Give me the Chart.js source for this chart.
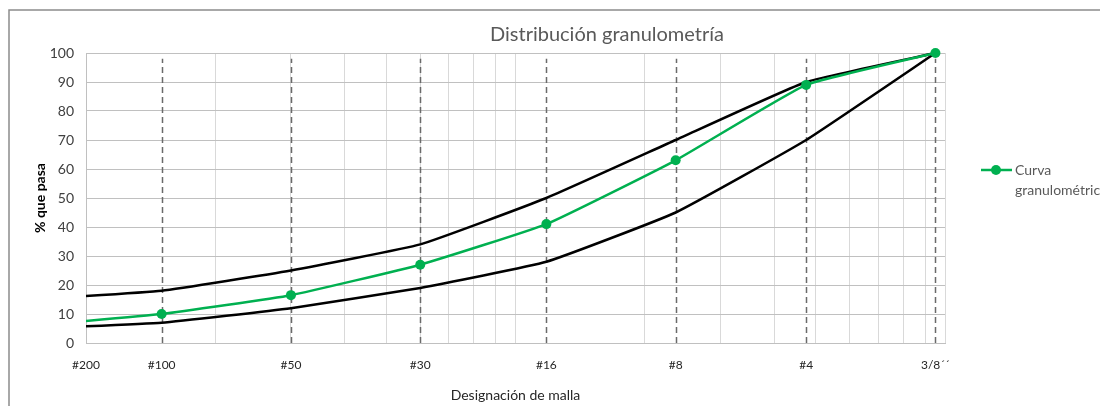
<!DOCTYPE html>
<html>
<head>
<meta charset="utf-8">
<script src="https://cdn.jsdelivr.net/npm/chart.js@4.4.1/dist/chart.umd.min.js"></script>
<style>
  html, body { margin: 0; padding: 0; background: #ffffff; }
  canvas { display: block; }
</style>
</head>
<body>
<canvas id="chart" width="1100" height="406"></canvas>
<script>
// Sieve designations and their openings (mm)
const sieveLabels = ['#200', '#100', '#50', '#30', '#16', '#8', '#4', '3/8´´'];
const sieveSizes  = [0.075, 0.15, 0.3, 0.6, 1.18, 2.36, 4.75, 9.5];

// Percent passing per sieve
const gradingCurve = [6, 10, 16.5, 27, 41, 63, 89, 100];
const upperLimit   = [15, 18, 25, 34, 50, 70, 90, 100];
const lowerLimit   = [5, 7, 12, 19, 28, 45, 70, 100];

// Logarithmic grid values for the opening axis
const gridSizes = [0.1, 0.2, 0.3, 0.4, 0.5, 0.6, 0.7, 0.8, 0.9, 1, 2, 3, 4, 5, 6, 7, 8, 9, 10];

const FONT = 'Lato, "Open Sans", "Liberation Sans", sans-serif';
const GREEN = '#00b050';
const X_MIN = 0.1, X_MAX = 10;
const TENSION = 0.12;

const toPoints = vals => sieveSizes.map((s, i) => ({ x: s, y: vals[i] }));

// Frame around the chart
const framePlugin = {
  id: 'frame',
  beforeDraw(chart) {
    const { ctx } = chart;
    ctx.save();
    ctx.fillStyle = '#ffffff';
    ctx.fillRect(0, 0, chart.width, chart.height);
    ctx.strokeStyle = '#8c8c8c';
    ctx.lineWidth = 1.5;
    ctx.beginPath();
    ctx.moveTo(9, chart.height);
    ctx.lineTo(9, 10);
    ctx.lineTo(chart.width, 10);
    ctx.stroke();
    ctx.restore();
  }
};

// Dashed drop lines at every sieve opening
const sieveLinesPlugin = {
  id: 'sieveLines',
  beforeDatasetsDraw(chart, args, opts) {
    const { ctx, scales: { x, y } } = chart;
    ctx.save();
    ctx.strokeStyle = opts.color;
    ctx.lineWidth = opts.width;
    ctx.setLineDash(opts.dash);
    sieveSizes.forEach(s => {
      if (s < X_MIN || s > X_MAX) return;
      const px = Math.round(x.getPixelForValue(s)) + 0.5;
      ctx.beginPath();
      ctx.moveTo(px, y.getPixelForValue(0));
      ctx.lineTo(px, y.getPixelForValue(opts.top));
      ctx.stroke();
    });
    ctx.restore();
  }
};

// Chart heading and legend entry for the grading curve
const headerLegendPlugin = {
  id: 'headerLegend',
  afterDraw(chart, args, opts) {
    const { ctx } = chart;
    ctx.save();
    ctx.fillStyle = '#595959';
    ctx.font = '20px ' + FONT;
    ctx.textAlign = 'center';
    ctx.textBaseline = 'middle';
    ctx.fillText(opts.title, opts.titleX, opts.titleY);

    const ds = chart.data.datasets[0];
    const lx = opts.legendX, ly = opts.legendY;
    ctx.strokeStyle = ds.borderColor;
    ctx.lineWidth = ds.borderWidth;
    ctx.beginPath();
    ctx.moveTo(lx, ly);
    ctx.lineTo(lx + 31, ly);
    ctx.stroke();
    ctx.fillStyle = ds.backgroundColor;
    ctx.beginPath();
    ctx.arc(lx + 15, ly, ds.pointRadius, 0, Math.PI * 2);
    ctx.fill();

    ctx.fillStyle = '#595959';
    ctx.font = '14px ' + FONT;
    ctx.textAlign = 'left';
    const words = ds.label.split(' ');
    words.forEach((w, i) => ctx.fillText(w, lx + 34, ly + i * 20));
    ctx.restore();
  }
};

new Chart(document.getElementById('chart'), {
  type: 'line',
  data: {
    datasets: [
      {
        label: 'Curva granulométrica',
        data: toPoints(gradingCurve),
        borderColor: GREEN,
        backgroundColor: GREEN,
        borderWidth: 2.5,
        pointRadius: 5,
        pointHoverRadius: 5,
        pointBorderWidth: 0,
        tension: TENSION,
        clip: { left: 0, right: 8, top: 8, bottom: 0 },
        order: 0
      },
      {
        label: 'Límite superior',
        data: toPoints(upperLimit),
        borderColor: '#000000',
        borderWidth: 2.5,
        pointRadius: 0,
        tension: TENSION,
        clip: { left: 0, right: 8, top: 8, bottom: 0 },
        order: 1
      },
      {
        label: 'Límite inferior',
        data: toPoints(lowerLimit),
        borderColor: '#000000',
        borderWidth: 2.5,
        pointRadius: 0,
        tension: TENSION,
        clip: { left: 0, right: 8, top: 8, bottom: 0 },
        order: 2
      }
    ]
  },
  options: {
    responsive: false,
    animation: false,
    events: [],
    layout: { padding: { left: 0, top: 53, right: 155, bottom: 0 } },
    plugins: {
      legend: { display: false },
      title: { display: false },
      tooltip: { enabled: false },
      sieveLines: { color: '#6a6a6a', width: 1.5, dash: [6, 4], top: 98 },
      headerLegend: {
        title: 'Distribución granulometría', titleX: 607, titleY: 35,
        legendX: 981, legendY: 170
      }
    },
    scales: {
      x: {
        type: 'logarithmic',
        position: 'bottom',
        min: X_MIN,
        max: X_MAX,
        afterBuildTicks: s => {
          s.ticks = sieveSizes.map(v => ({ value: Math.min(Math.max(v, X_MIN), X_MAX) }));
        },
        afterFit: s => { s.height = 63; },
        grid: { display: false, drawTicks: false },
        border: { display: true, color: '#c0c0c0', width: 1 },
        ticks: {
          autoSkip: false,
          maxRotation: 0,
          padding: 15,
          color: '#262626',
          font: { family: FONT, size: 12 },
          callback: (v, i) => sieveLabels[i]
        },
        title: {
          display: true,
          text: 'Designación de malla',
          color: '#262626',
          font: { family: FONT, size: 14 },
          padding: { top: 0, bottom: 2 }
        }
      },
      xg: {
        type: 'logarithmic',
        axis: 'x',
        position: 'top',
        min: X_MIN,
        max: X_MAX,
        afterBuildTicks: s => { s.ticks = gridSizes.map(v => ({ value: v })); },
        afterFit: s => { s.height = 0; },
        grid: { color: '#d9d9d9', lineWidth: 1, drawTicks: false },
        border: { display: false },
        ticks: { display: false }
      },
      y: {
        type: 'linear',
        min: 0,
        max: 100,
        afterFit: s => { s.width = 86; },
        grid: { color: '#c0c0c0', lineWidth: 1, drawTicks: false },
        border: { display: true, color: '#c0c0c0', width: 1 },
        ticks: {
          stepSize: 10,
          padding: 12,
          color: '#404040',
          font: { family: FONT, size: 14 }
        },
        title: {
          display: true,
          text: '% que pasa',
          color: '#000000',
          font: { family: FONT, size: 14, weight: 'bold' },
          padding: { top: 32, bottom: 0 }
        }
      }
    }
  },
  plugins: [framePlugin, sieveLinesPlugin, headerLegendPlugin]
});
</script>
</body>
</html>
